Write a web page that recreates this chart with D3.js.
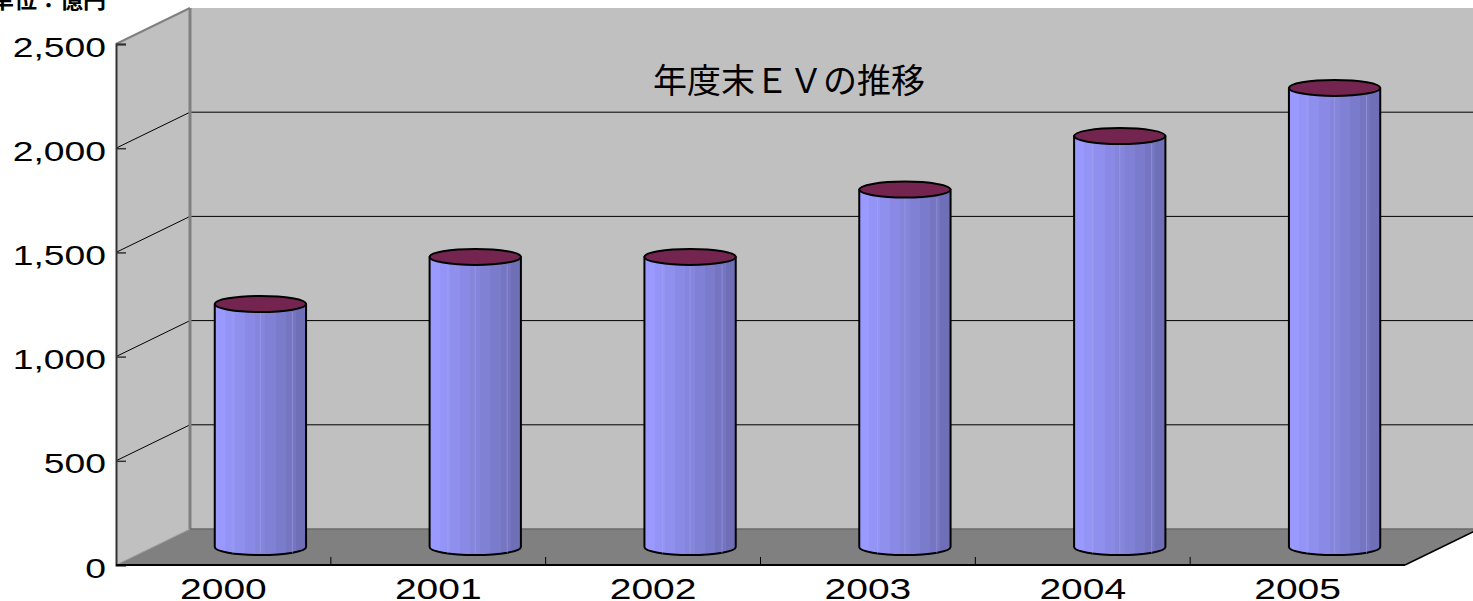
<!DOCTYPE html>
<html>
<head>
<meta charset="utf-8">
<script src="https://cdn.jsdelivr.net/npm/d3@7"></script>
<style>
  body { margin: 0; background: #fff; }
  svg { display: block; }
</style>
</head>
<body>
<div id="chart-container"></div>
<script>
// 年度末EVの推移 - 3D cylinder column chart
const years = ["2000", "2001", "2002", "2003", "2004", "2005"];
const evValues = [1166, 1392, 1392, 1715, 1972, 2203];
const yTicks = [0, 500, 1000, 1500, 2000, 2500];
const titleText = "年度末ＥＶの推移";
const unitText = "単位：億円";

const W = 1473, H = 601;
const depth = { dx: 74, dy: -36 };
const sx = 1.38; // horizontal stretch of the axis text, as in the original

const svg = d3.select("#chart-container").append("svg")
    .attr("width", W)
    .attr("height", H);

const x = d3.scaleBand().domain(years).range([116, 1405]);
const y = d3.scaleLinear().domain([0, 2500]).range([565, 44]);

const x0 = x.range()[0], x1 = x.range()[1];
const yTop = y(2500), yBot = y(0);

// walls and floor
svg.append("polygon")
    .attr("points", [[x0 + depth.dx, yTop + depth.dy], [x1 + depth.dx, yTop + depth.dy],
                     [x1 + depth.dx, yBot + depth.dy], [x0 + depth.dx, yBot + depth.dy]].join(" "))
    .attr("fill", "#c0c0c0");
svg.append("polygon")
    .attr("points", [[x0, yTop], [x0 + depth.dx, yTop + depth.dy],
                     [x0 + depth.dx, yBot + depth.dy], [x0, yBot]].join(" "))
    .attr("fill", "#c0c0c0");
svg.append("polygon")
    .attr("points", [[x0, yBot], [x0 + depth.dx, yBot + depth.dy],
                     [x1 + depth.dx, yBot + depth.dy], [x1, yBot]].join(" "))
    .attr("fill", "#808080");

// gridlines on back wall and side wall
const grid = svg.append("g");
yTicks.filter(t => t > 0 && t < 2500).forEach(t => {
    grid.append("line")
        .attr("x1", x0 + depth.dx).attr("x2", x1 + depth.dx)
        .attr("y1", y(t) + depth.dy).attr("y2", y(t) + depth.dy)
        .attr("stroke", "#000").attr("stroke-width", 1);
    grid.append("line")
        .attr("x1", x0).attr("x2", x0 + depth.dx)
        .attr("y1", y(t)).attr("y2", y(t) + depth.dy)
        .attr("stroke", "#000").attr("stroke-width", 1);
});
// top edge of side wall
grid.append("line")
    .attr("x1", x0).attr("x2", x0 + depth.dx)
    .attr("y1", yTop).attr("y2", yTop + depth.dy)
    .attr("stroke", "#808080").attr("stroke-width", 2);
// back corner
grid.append("line")
    .attr("x1", x0 + depth.dx).attr("x2", x0 + depth.dx)
    .attr("y1", yTop + depth.dy).attr("y2", yBot + depth.dy)
    .attr("stroke", "#808080").attr("stroke-width", 3);
grid.append("line")
    .attr("x1", x0 + depth.dx).attr("x2", x1 + depth.dx)
    .attr("y1", yBot + depth.dy).attr("y2", yBot + depth.dy)
    .attr("stroke", "#6a6a6a").attr("stroke-width", 1.5);
// floor edges
grid.append("line")
    .attr("x1", x0).attr("x2", x0 + depth.dx)
    .attr("y1", yBot).attr("y2", yBot + depth.dy)
    .attr("stroke", "#a0a0a0").attr("stroke-width", 1);
grid.append("line")
    .attr("x1", x1).attr("x2", x1 + depth.dx)
    .attr("y1", yBot).attr("y2", yBot + depth.dy)
    .attr("stroke", "#000").attr("stroke-width", 1.5);

// title
svg.append("text")
    .attr("x", 789)
    .attr("y", 93)
    .attr("text-anchor", "middle")
    .style("font-family", "'Noto Sans CJK JP', sans-serif")
    .style("font-size", "34px")
    .style("fill", "#000")
    .text(titleText);

// cylinder gradient (faceted bands)
const defs = svg.append("defs");
const grad = defs.append("linearGradient")
    .attr("id", "cyl").attr("x1", "0%").attr("x2", "100%").attr("y1", "0%").attr("y2", "0%");
const bands = ["#9999ff", "#9494f6", "#8f8fee", "#8a8ae6", "#8585dc", "#8080d4", "#7b7bcb", "#7575c2", "#6f6fb8"];
bands.forEach((c, i) => {
    grad.append("stop").attr("offset", (i / bands.length * 100) + "%").attr("stop-color", c);
    grad.append("stop").attr("offset", ((i + 1) / bands.length * 100) + "%").attr("stop-color", c);
});

// bars
const bw = x.bandwidth() * 0.425;
const ry = 8;
const bars = svg.append("g");
years.forEach((yr, i) => {
    const cx = x(yr) + x.bandwidth() / 2 + depth.dx / 2;
    const top = y(evValues[i]) + depth.dy / 2;
    const base = y(0) + depth.dy / 2;
    const l = cx - bw / 2, r = cx + bw / 2;
    bars.append("path")
        .attr("d", `M${l},${top} L${l},${base} A${bw / 2},${ry} 0 0 0 ${r},${base} L${r},${top} Z`)
        .attr("fill", "url(#cyl)")
        .attr("stroke", "#000")
        .attr("stroke-width", 2)
        .attr("stroke-linejoin", "round");
    // faint facet lines
    [0.2, 0.5, 0.85].forEach(f => {
        bars.append("line")
            .attr("x1", l + bw * f).attr("x2", l + bw * f)
            .attr("y1", top + ry).attr("y2", base + ry * 0.8)
            .attr("stroke", "#a8a8f0").attr("stroke-width", 0.8).attr("opacity", 0.6);
    });
    bars.append("ellipse")
        .attr("cx", cx).attr("cy", top)
        .attr("rx", bw / 2).attr("ry", ry)
        .attr("fill", "#74254f")
        .attr("stroke", "#000")
        .attr("stroke-width", 2);
});

// y axis
const yAxis = svg.append("g")
    .attr("transform", `translate(${x0},0)`)
    .call(d3.axisLeft(y).tickValues(yTicks).tickSize(-10).tickPadding(10).tickFormat(d3.format(",")));
yAxis.select(".domain").attr("stroke", "#333").attr("stroke-width", 2);
yAxis.selectAll(".tick line").attr("stroke", "#333").attr("stroke-width", 1.5);
yAxis.selectAll(".tick text")
    .attr("dy", "0.45em")
    .each(function () {
        const t = d3.select(this);
        const tx = +t.attr("x");
        t.attr("x", 0).attr("transform", `translate(${tx},0) scale(${sx},1)`);
    })
    .style("font-family", "'Liberation Sans', Arial, sans-serif")
    .style("font-size", "27px")
    .attr("fill", "#000");

// x axis
svg.append("line")
    .attr("x1", x0).attr("x2", x1).attr("y1", yBot).attr("y2", yBot)
    .attr("stroke", "#000").attr("stroke-width", 2);
const xTicks = svg.append("g");
years.forEach((yr, i) => {
    if (i > 0) {
        xTicks.append("line")
            .attr("x1", x(yr)).attr("x2", x(yr))
            .attr("y1", yBot - 8).attr("y2", yBot)
            .attr("stroke", "#000").attr("stroke-width", 1);
    }
    xTicks.append("text")
        .attr("transform", `translate(${x(yr) + x.bandwidth() / 2},599) scale(1.3,1)`)
        .attr("text-anchor", "middle")
        .style("font-family", "'Liberation Sans', Arial, sans-serif")
        .style("font-size", "30px")
        .attr("fill", "#000")
        .text(yr);
});

// unit label (cut off at the top, as in the original)
svg.append("text")
    .attr("x", -9)
    .attr("y", 8)
    .style("font-family", "'Noto Sans CJK JP', sans-serif")
    .style("font-size", "23px")
    .style("font-weight", "bold")
    .attr("fill", "#000")
    .text(unitText);
</script>
</body>
</html>
